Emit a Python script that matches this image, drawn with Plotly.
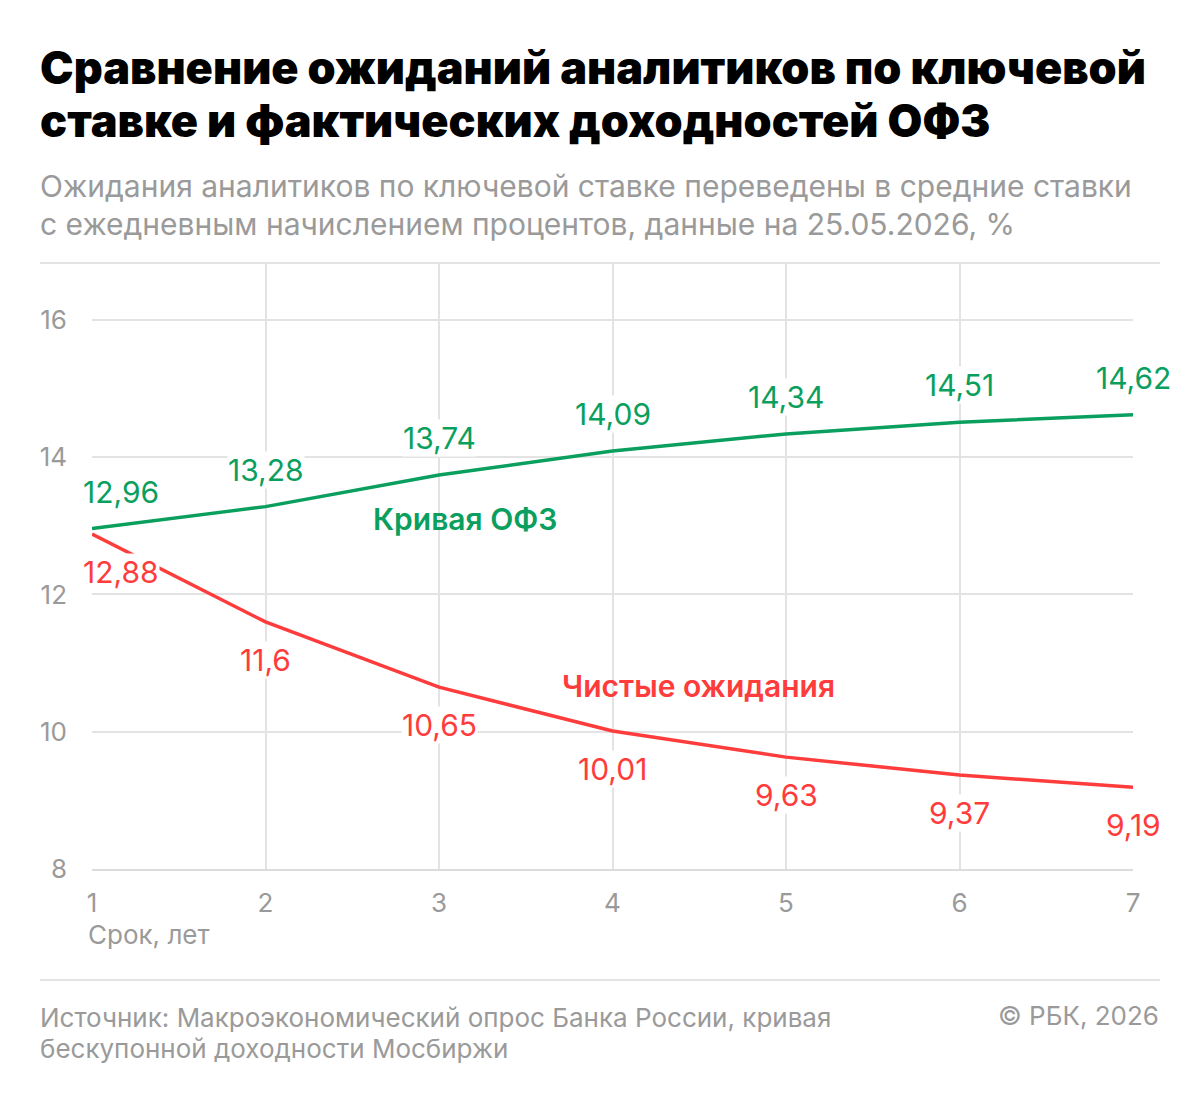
import plotly.graph_objects as go

years = [1, 2, 3, 4, 5, 6, 7]
ofz = [12.96, 13.28, 13.74, 14.09, 14.34, 14.51, 14.62]
expect = [12.88, 11.6, 10.65, 10.01, 9.63, 9.37, 9.19]
ofz_labels = ["12,96", "13,28", "13,74", "14,09", "14,34", "14,51", "14,62"]
expect_labels = ["12,88", "11,6", "10,65", "10,01", "9,63", "9,37", "9,19"]
y_ticks = [8, 10, 12, 14, 16]

GREEN = "#0a9f5e"
RED = "#ff3c3c"
GRAY = "#9a9a9a"
GRID = "#e3e3e3"
FONT = "Inter"

OFF = 8  # page body margin
W, H = 1200, 1103
# target pixel positions of plot area in the page
PL, PR, PT, PB = 92, 1133, 263, 869
L = PL - OFF
T = PT - OFF
R = W - (PR - OFF)
B = H - (PB - OFF)
PW = W - L - R
PH = H - T - B

def px_x(x):
    return (x - OFF - L) / PW

def px_y(y):
    return (H - B - (y - OFF)) / PH

fig = go.Figure()
fig.add_trace(go.Scatter(x=years, y=ofz, mode="lines",
                         line=dict(color=GREEN, width=3.5), hoverinfo="skip"))
fig.add_trace(go.Scatter(x=years, y=expect, mode="lines",
                         line=dict(color=RED, width=3.5), hoverinfo="skip"))

ann = []
for i, (x, v, t) in enumerate(zip(years, ofz, ofz_labels)):
    ann.append(dict(x=x, y=v, xref="x", yref="y", text=t, showarrow=False,
                    yshift=37, xshift=29 if i == 0 else 0,
                    font=dict(family=FONT, size=30, color=GREEN),
                    bgcolor="white", borderpad=0))
for i, (x, v, t) in enumerate(zip(years, expect, expect_labels)):
    ann.append(dict(x=x, y=v, xref="x", yref="y", text=t, showarrow=False,
                    yshift=-38, xshift=29 if i == 0 else 0,
                    font=dict(family=FONT, size=30, color=RED),
                    bgcolor="white", borderpad=0))

def text_line(txt, xpx, ypx, size, color, weight=400, anchor="left"):
    ann.append(dict(x=px_x(xpx), y=px_y(ypx), xref="paper", yref="paper",
                    text=txt, showarrow=False, xanchor=anchor, yanchor="middle",
                    font=dict(family=FONT, size=size, color=color, weight=weight)))

text_line("Кривая ОФЗ", 465, 519, 30, GREEN, 600, anchor="center")
text_line("Чистые ожидания", 698, 686, 30, RED, 600, anchor="center")
text_line("Срок, лет", 86, 934, 26, GRAY)
text_line("Сравнение ожиданий аналитиков по ключевой", 38, 68, 45, "#000000", 900)
text_line("ставке и фактических доходностей ОФЗ", 38, 120, 45, "#000000", 900)
text_line("Ожидания аналитиков по ключевой ставке переведены в средние ставки", 38, 186, 30, GRAY)
text_line("с ежедневным начислением процентов, данные на 25.05.2026, %", 38, 224, 30, GRAY)
text_line("Источник: Макроэкономический опрос Банка России, кривая", 38, 1017, 26, GRAY)
text_line("бескупонной доходности Мосбиржи", 38, 1048, 26, GRAY)
text_line("© РБК, 2026", 1161, 1015, 26, GRAY, anchor="right")

shapes = [
    dict(type="line", xref="paper", yref="paper", x0=px_x(40), x1=px_x(1160),
         y0=px_y(263), y1=px_y(263), line=dict(color=GRID, width=2)),
    dict(type="line", xref="paper", yref="paper", x0=px_x(40), x1=px_x(1160),
         y0=px_y(980), y1=px_y(980), line=dict(color=GRID, width=2)),
]

fig.update_layout(
    width=W, height=H,
    margin=dict(l=L, r=R, t=T, b=B),
    paper_bgcolor="white", plot_bgcolor="white",
    showlegend=False,
    annotations=ann, shapes=shapes,
    xaxis=dict(range=[1, 7], tickvals=years, showgrid=True, gridcolor=GRID, gridwidth=2,
               zeroline=False, showline=True, linecolor="#dcdcdc", linewidth=2,
               tickfont=dict(family=FONT, size=26, color=GRAY),
               ticks="", ticklabelstandoff=10, fixedrange=True),
    yaxis=dict(range=[8, 16.83], tickvals=y_ticks, showgrid=True, gridcolor=GRID, gridwidth=2,
               zeroline=False, showline=False,
               tickfont=dict(family=FONT, size=26, color=GRAY),
               ticks="", ticklabelstandoff=24, fixedrange=True),
)

fig.write_html("out.html")
